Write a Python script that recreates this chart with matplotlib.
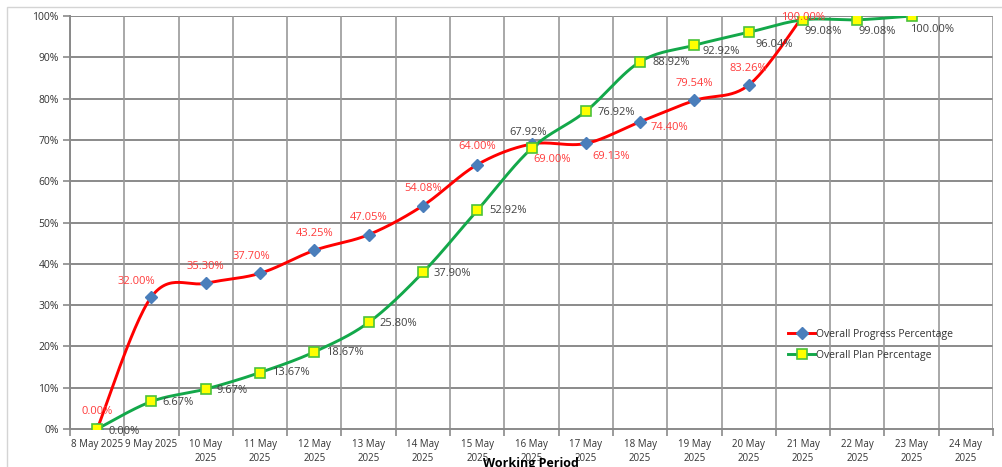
import numpy as np
import matplotlib
matplotlib.use('Agg')
import matplotlib.pyplot as plt
from matplotlib.lines import Line2D
from matplotlib.patches import Rectangle

plt.rcParams['font.family'] = ['Open Sans', 'DejaVu Sans']

dates = ['8 May 2025', '9 May 2025', '10 May\n2025', '11 May\n2025', '12 May\n2025',
         '13 May\n2025', '14 May\n2025', '15 May\n2025', '16 May\n2025', '17 May\n2025',
         '18 May\n2025', '19 May\n2025', '20 May\n2025', '21 May\n2025', '22 May\n2025',
         '23 May\n2025', '24 May\n2025']
progress = [0.00, 32.00, 35.30, 37.70, 43.25, 47.05, 54.08, 64.00, 69.00, 69.13,
            74.40, 79.54, 83.26, 100.00]
plan = [0.00, 6.67, 9.67, 13.67, 18.67, 25.80, 37.90, 52.92, 67.92, 76.92,
        88.92, 92.92, 96.04, 99.08, 99.08, 100.00]
yticks = [0, 10, 20, 30, 40, 50, 60, 70, 80, 90, 100]

# label offsets in pixels (layout only)
prog_off = [(0, 17), (-15, 15), (0, 17), (-9, 17), (0, 17), (0, 17), (0, 17), (0, 18),
            (21, -15), (25, -13), (29, -6), (0, 17), (0, 17), (0, -2)]
plan_off = [(11, -2), (11, -1), (11, -1), (12, 0), (12, -1), (11, -1), (11, -1), (12, 0),
            (-22, 16), (12, -1), (12, -1), (8, -6), (7, -12), (2, -12), (1, -12), (-2, -13)]


def smooth(xs, ys, n=30):
    pts = np.column_stack([xs, ys]).astype(float)
    out = [pts[0]]
    for i in range(len(pts) - 1):
        p0 = pts[i - 1] if i > 0 else pts[i]
        p1 = pts[i]
        p2 = pts[i + 1]
        p3 = pts[i + 2] if i + 2 < len(pts) else pts[i + 1]
        c1 = p1 + (p2 - p0) / 6
        c2 = p2 - (p3 - p1) / 6
        t = np.linspace(0, 1, n)[1:, None]
        seg = (1 - t) ** 3 * p1 + 3 * (1 - t) ** 2 * t * c1 + 3 * (1 - t) * t ** 2 * c2 + t ** 3 * p2
        out.extend(seg)
    return np.array(out)


W, H = 1003, 467
fig = plt.figure(figsize=(W / 100, H / 100), dpi=100)
fig.patch.set_facecolor('white')
fig.patches.append(Rectangle((7 / W, -0.1), 1.2, 1 - 7 / H + 0.1, transform=fig.transFigure,
                             fill=False, edgecolor='#d4d4d4', linewidth=1.0))

ax = fig.add_axes([70 / W, 1 - 429 / H, (993 - 70) / W, (429 - 16) / H])
ax.set_xlim(-0.5, len(dates) - 0.5)
ax.set_ylim(0, 100)

grid_c = '#8a8a8a'
for yv in yticks[1:]:
    ax.axhline(yv, color=grid_c, lw=1.4, zorder=1)
for xv in np.arange(-0.5, len(dates), 1.0):
    ax.axvline(xv, color='#9a9a9a', lw=1.2, zorder=1)

for s in ['top', 'right']:
    ax.spines[s].set_visible(False)
for s in ['left', 'bottom']:
    ax.spines[s].set_color(grid_c)
    ax.spines[s].set_linewidth(1.4)

xp = np.arange(len(progress))
xq = np.arange(len(plan))
red_c = '#ff0000'
green_c = '#13a84a'

sp = smooth(xp, progress)
ax.plot(sp[:, 0], sp[:, 1], color=red_c, lw=2.1, zorder=3, solid_capstyle='round')
ax.plot(xp, progress, linestyle='none', marker='D', markersize=6, color='#4a7ebb',
        markeredgecolor='#4a7ebb', zorder=4)

sq = smooth(xq, plan)
ax.plot(sq[:, 0], sq[:, 1], color=green_c, lw=2.1, zorder=5, solid_capstyle='round')
ax.plot(xq, plan, linestyle='none', marker='s', markersize=7, markerfacecolor='#ffff00',
        markeredgecolor='#4cc23a', markeredgewidth=1.2, zorder=6)

for x, v, (dx, dy) in zip(xp, progress, prog_off):
    ax.annotate(f'{v:.2f}%', (x, v), xytext=(dx, dy), textcoords='offset pixels',
                ha='center', va='center', fontsize=8, color='#ff3b3b', zorder=8,
                annotation_clip=False)
for x, v, (dx, dy) in zip(xq, plan, plan_off):
    ax.annotate(f'{v:.2f}%', (x, v), xytext=(dx, dy), textcoords='offset pixels',
                ha='left', va='center', fontsize=8, color='#404040', zorder=8,
                annotation_clip=False)

ax.set_yticks(yticks)
ax.set_yticklabels([f'{v}%' for v in yticks], fontsize=7.5, color='#333333')
ax.tick_params(axis='y', length=5, width=1.2, color=grid_c, pad=3)

ax.set_xticks(np.arange(len(dates)))
ax.set_xticklabels(dates, fontsize=7, color='#333333', linespacing=1.45)
ax.tick_params(axis='x', which='major', length=0, pad=7)
ax.set_xticks(np.arange(-0.5, len(dates), 1.0), minor=True)
ax.tick_params(axis='x', which='minor', length=5, width=1.2, color=grid_c)

fig.text(531 / W, 1 - 463 / H, 'Working Period', ha='center', va='center',
         fontsize=9, fontweight='bold', color='black')

handles = [
    Line2D([], [], color=red_c, lw=2.1, marker='D', markersize=6,
           markerfacecolor='#4a7ebb', markeredgecolor='#4a7ebb'),
    Line2D([], [], color=green_c, lw=2.1, marker='s', markersize=7,
           markerfacecolor='#ffff00', markeredgecolor='#4cc23a', markeredgewidth=1.2),
]
leg = fig.legend(handles, ['Overall Progress Percentage', 'Overall Plan Percentage'],
                 loc='upper left', bbox_to_anchor=(788 / W, 1 - 329 / H),
                 frameon=False, fontsize=7.5, handlelength=2.6, handletextpad=0.1,
                 labelspacing=0.95, borderpad=0, borderaxespad=0)
for t in leg.get_texts():
    t.set_color('#333333')

fig.savefig('out.png', dpi=100, facecolor='white')
